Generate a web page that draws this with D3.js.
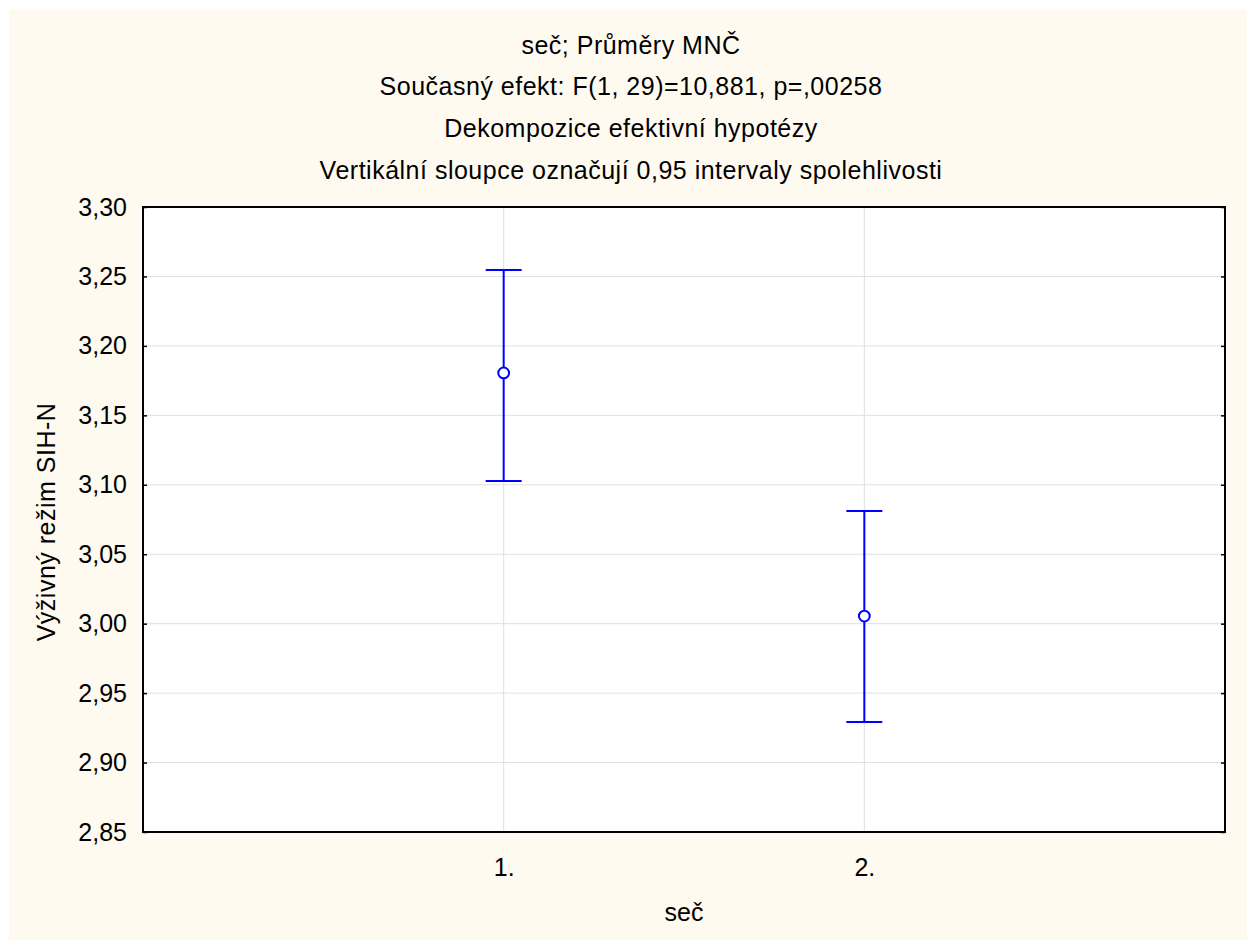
<!DOCTYPE html>
<html>
<head>
<meta charset="utf-8">
<script src="https://cdn.jsdelivr.net/npm/d3@7"></script>
<style>
  body { margin: 0; background: #fff; }
  text { font-family: "Liberation Sans", Arial, sans-serif; fill: #000; }
</style>
</head>
<body>
<div id="chart"></div>
<script>
// data
const categories = ["1.", "2."];
const means = [3.1805, 3.0055];
const upper = [3.2546, 3.0811];
const lower = [3.1027, 2.9292];
const yTicks = [2.85, 2.90, 2.95, 3.00, 3.05, 3.10, 3.15, 3.20, 3.25, 3.30];
const titleLines = [
  "seč; Průměry MNČ",
  "Současný efekt: F(1, 29)=10,881, p=,00258",
  "Dekompozice efektivní hypotézy",
  "Vertikální sloupce označují 0,95 intervaly spolehlivosti"
];

const width = 1247, height = 940;
const margin = {left: 143, top: 207, right: 1225, bottom: 832};
const fontSize = 25;

const svg = d3.select("#chart").append("svg")
    .attr("width", width)
    .attr("height", height);

// cream page
svg.append("rect")
    .attr("x", 9).attr("y", 10)
    .attr("width", width - 9).attr("height", height - 10)
    .attr("fill", "#fefaf0");

const x = d3.scaleLinear().domain([0, 3]).range([margin.left, margin.right]);
const y = d3.scaleLinear().domain([2.85, 3.30]).range([margin.bottom, margin.top]);
const fmt = v => d3.format(".2f")(v).replace(".", ",");

// plot area
svg.append("rect")
    .attr("x", margin.left).attr("y", margin.top)
    .attr("width", margin.right - margin.left)
    .attr("height", margin.bottom - margin.top)
    .attr("fill", "#fff");

// grid
svg.append("g").selectAll("line")
  .data(yTicks.slice(1, -1))
  .join("line")
    .attr("x1", margin.left).attr("x2", margin.right)
    .attr("y1", d => y(d)).attr("y2", d => y(d))
    .attr("stroke", "#e0e0e0").attr("stroke-width", 1);

svg.append("g").selectAll("line")
  .data(categories)
  .join("line")
    .attr("x1", (d, i) => x(i + 1)).attr("x2", (d, i) => x(i + 1))
    .attr("y1", margin.top).attr("y2", margin.bottom)
    .attr("stroke", "#e0e0e0").attr("stroke-width", 1);

// left axis
const yAxis = d3.axisLeft(y).tickValues(yTicks).tickFormat(fmt).tickSize(-4).tickPadding(16);
svg.append("g")
    .attr("transform", `translate(${margin.left},0)`)
    .call(yAxis)
    .call(g => g.select(".domain").remove())
    .call(g => g.selectAll(".tick line").attr("stroke", "#000").attr("stroke-width", 1.5))
    .call(g => g.selectAll(".tick text")
        .attr("font-size", fontSize).attr("font-family", "Liberation Sans, Arial, sans-serif"));

// right ticks
svg.append("g")
    .attr("transform", `translate(${margin.right},0)`)
    .call(d3.axisRight(y).tickValues(yTicks).tickSize(-4).tickFormat(""))
    .call(g => g.select(".domain").remove())
    .call(g => g.selectAll(".tick line").attr("stroke", "#000").attr("stroke-width", 1.5));

// bottom labels
const xAxis = d3.axisBottom(x).tickValues([1, 2]).tickFormat((d, i) => categories[i]).tickSize(0).tickPadding(26);
svg.append("g")
    .attr("transform", `translate(0,${margin.bottom})`)
    .call(xAxis)
    .call(g => g.select(".domain").remove())
    .call(g => g.selectAll(".tick text")
        .attr("font-size", fontSize).attr("font-family", "Liberation Sans, Arial, sans-serif"));

// frame
svg.append("rect")
    .attr("x", margin.left).attr("y", margin.top)
    .attr("width", margin.right - margin.left)
    .attr("height", margin.bottom - margin.top)
    .attr("fill", "none").attr("stroke", "#000").attr("stroke-width", 2);

// error bars
const bars = svg.append("g").selectAll("g")
  .data(categories.map((c, i) => ({c, i, m: means[i], hi: upper[i], lo: lower[i]})))
  .join("g")
    .attr("stroke", "#0000ff").attr("stroke-width", 2).attr("fill", "none");

bars.append("line")
    .attr("x1", d => x(d.i + 1)).attr("x2", d => x(d.i + 1))
    .attr("y1", d => y(d.hi)).attr("y2", d => y(d.lo));
bars.append("line")
    .attr("x1", d => x(d.i + 1) - 18).attr("x2", d => x(d.i + 1) + 18)
    .attr("y1", d => y(d.hi)).attr("y2", d => y(d.hi));
bars.append("line")
    .attr("x1", d => x(d.i + 1) - 18).attr("x2", d => x(d.i + 1) + 18)
    .attr("y1", d => y(d.lo)).attr("y2", d => y(d.lo));
bars.append("circle")
    .attr("cx", d => x(d.i + 1)).attr("cy", d => y(d.m))
    .attr("r", 5.4).attr("fill", "#fff");

// titles
svg.append("g").selectAll("text")
  .data(titleLines)
  .join("text")
    .attr("x", 631)
    .attr("y", (d, i) => 45 + i * 41.7)
    .attr("dy", "0.35em")
    .attr("text-anchor", "middle")
    .attr("font-size", fontSize)
    .attr("letter-spacing", 0.5)
    .text(d => d);

svg.append("text")
    .attr("x", (margin.left + margin.right) / 2)
    .attr("y", 912)
    .attr("dy", "0.35em")
    .attr("text-anchor", "middle")
    .attr("font-size", fontSize)
    .text("seč");

svg.append("text")
    .attr("transform", "translate(46,522) rotate(-90)")
    .attr("dy", "0.35em")
    .attr("text-anchor", "middle")
    .attr("font-size", fontSize)
    .attr("letter-spacing", 0.5)
    .text("Výživný režim SIH-N");
</script>
</body>
</html>
